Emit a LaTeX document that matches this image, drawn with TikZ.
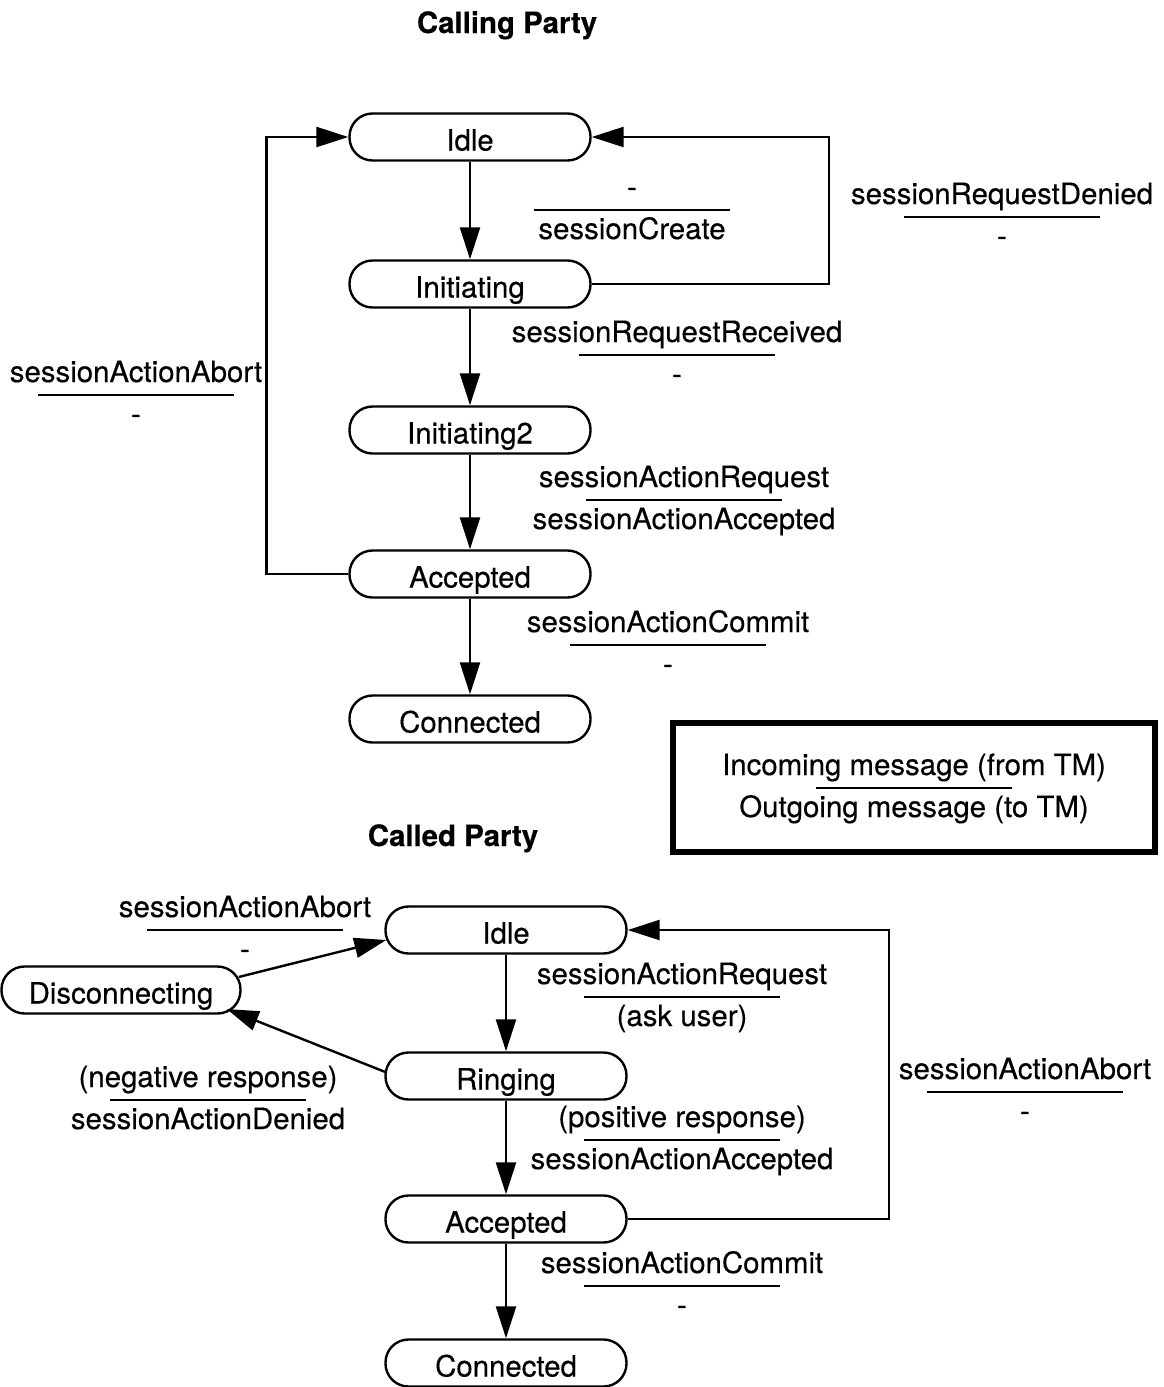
\documentclass[tikz,border=0pt]{standalone}
\usepackage{fontspec}
\setmainfont{TeX Gyre Heros}
\usetikzlibrary{arrows.meta,calc}
\newcommand\myfs{\fontsize{14.7}{17}\selectfont\addfontfeatures{FakeBold=0.35}}
\newcommand\pairlbl[5]{%
  \node[lbl] (#1t) at (#2,#3-13) {#4};
  \node[lbl] (#1b) at (#2,#3+29) {#5};
  \draw[divline] (#2-98,#3) -- (#2+98,#3);}
\begin{document}
\begin{tikzpicture}[x=0.5pt,y=-0.5pt,
  state/.style={draw, line width=1.2pt, rounded corners=11.5pt, minimum width=120.5pt,
    minimum height=23.5pt, inner sep=0pt, text height=13.5pt, text depth=0pt, font=\myfs},
  lbl/.style={anchor=base, inner sep=0pt, font=\myfs},
  arr/.style={line width=1.2pt, -{Triangle[length=16pt,width=10pt]}},
  divline/.style={line width=0.9pt}]
\useasboundingbox (0,0) rectangle (1163,1387);
% ---------- Calling party ----------
\node[lbl, font=\myfs\bfseries] (title1) at (507,33) {Calling Party};
\node[state] (idle1) at (470,137) {Idle};
\node[state] (init1) at (470,284) {Initiating};
\node[state] (init2) at (470,430) {Initiating2};
\node[state] (acc1) at (470,574) {Accepted};
\node[state] (con1) at (470,719) {Connected};
\draw[arr] (idle1) -- (init1);
\draw[arr] (init1) -- (init2);
\draw[arr] (init2) -- (acc1);
\draw[arr] (acc1) -- (con1);
\draw[arr] (init1.east) -- ++(237,0) |- (idle1.east);
\draw[arr] (acc1.west) -- ++(-82,0) |- (idle1.west);
\pairlbl{a}{632}{210}{-}{sessionCreate}
\pairlbl{b}{1002}{217}{sessionRequestDenied}{-}
\pairlbl{c}{677}{355}{sessionRequestReceived}{-}
\pairlbl{d}{136}{395}{sessionActionAbort}{-}
\pairlbl{e}{684}{500}{sessionActionRequest}{sessionActionAccepted}
\pairlbl{f}{668}{645}{sessionActionCommit}{-}
% ---------- Legend ----------
\node[draw, line width=3pt, minimum width=241pt, minimum height=64.5pt, inner sep=0pt] (legend) at (914,787.5) {};
\pairlbl{g}{914}{788}{Incoming message (from TM)}{Outgoing message (to TM)}
% ---------- Called party ----------
\node[lbl, font=\myfs\bfseries] (title2) at (453,846) {Called Party};
\node[state] (idle2) at (506,930) {Idle};
\node[state, minimum width=119.5pt] (disc) at (121,990) {Disconnecting};
\node[state] (ring) at (506,1076) {Ringing};
\node[state] (acc2) at (506,1219) {Accepted};
\node[state] (con2) at (506,1363) {Connected};
\draw[arr] (idle2) -- (ring);
\draw[arr] (ring) -- (acc2);
\draw[arr] (acc2) -- (con2);
\draw[arr] ($(disc.east)+(-3,-13)$) -- ($(idle2.west)+(2,10)$);
\draw[arr] ($(ring.west)+(1,-4)$) -- ($(disc.east)+(-15,19)$);
\draw[arr] (acc2.east) -- ++(261,0) |- (idle2.east);
\pairlbl{h}{245}{930}{sessionActionAbort}{-}
\pairlbl{i}{682}{997}{sessionActionRequest}{(ask user)}
\pairlbl{j}{208}{1100}{(negative response)}{sessionActionDenied}
\pairlbl{k}{682}{1140}{(positive response)}{sessionActionAccepted}
\pairlbl{l}{1025}{1092}{sessionActionAbort}{-}
\pairlbl{m}{682}{1286}{sessionActionCommit}{-}
\end{tikzpicture}
\end{document}
